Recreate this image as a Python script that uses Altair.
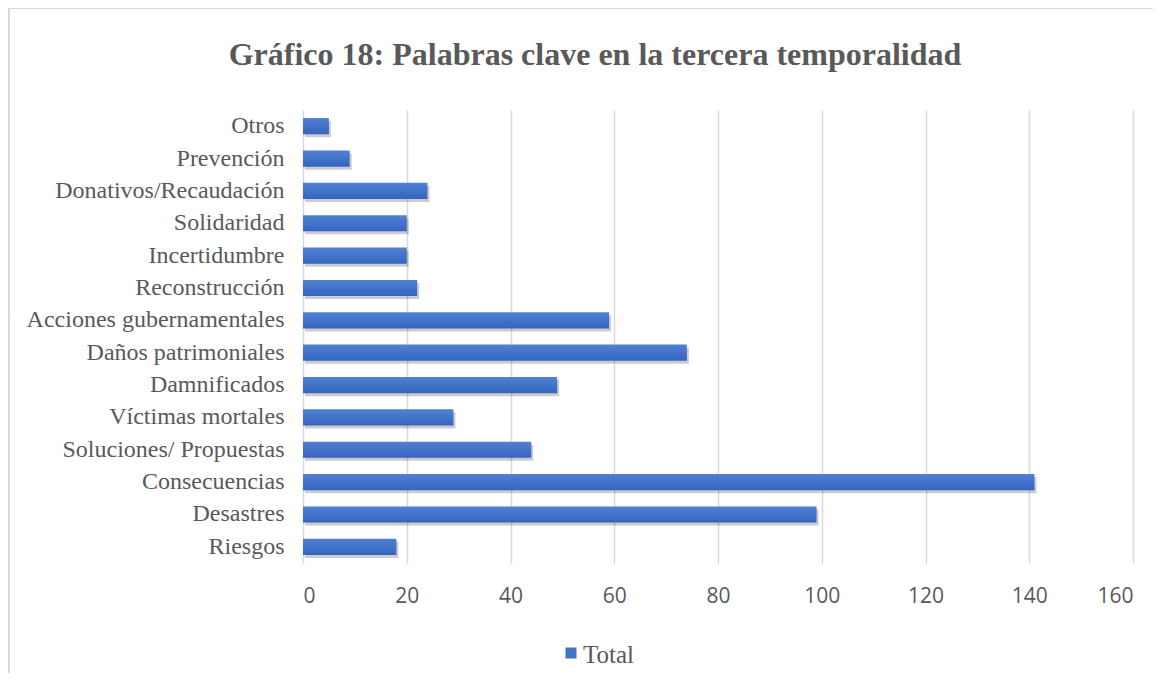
import altair as alt
import pandas as pd

categories = ["Otros", "Prevención", "Donativos/Recaudación", "Solidaridad", "Incertidumbre",
              "Reconstrucción", "Acciones gubernamentales", "Daños patrimoniales", "Damnificados",
              "Víctimas mortales", "Soluciones/ Propuestas", "Consecuencias", "Desastres", "Riesgos"]
values = [5, 9, 24, 20, 20, 22, 59, 74, 49, 29, 44, 141, 99, 18]
series = ["Total"] * len(categories)
x_ticks = [0, 20, 40, 60, 80, 100, 120, 140, 160]
title_text = ["Gráfico 18: Palabras clave en la tercera temporalidad"]

df = pd.DataFrame({"cat": categories, "val": values, "serie": series})

W, H = 830, 453
PL, PT, PR, PB = 295, 102, 20, 110

y_enc = alt.Y("cat:N", sort=categories, title=None,
              scale=alt.Scale(paddingInner=0.5, paddingOuter=0.25),
              axis=alt.Axis(labelFont="Liberation Serif", labelFontSize=24, labelColor="#595959",
                            ticks=False, domain=False, labelPadding=19, labelLimit=400))
x_enc = alt.X("val:Q", title=None, scale=alt.Scale(domain=[0, 160]),
              axis=alt.Axis(values=x_ticks, labelFont="Open Sans", labelFontSize=21,
                            labelColor="#595959", ticks=False, domain=False, labelPadding=22,
                            grid=True, gridColor="#d9d9d9", gridWidth=1.5))

shadow = alt.Chart(df).mark_bar(color="#000000", opacity=0.2, xOffset=2, yOffset=3).encode(
    x=x_enc,
    y=y_enc,
)

bars = alt.Chart(df).mark_bar(
    color=alt.Gradient(gradient="linear", x1=0, x2=0, y1=0, y2=1,
                       stops=[alt.GradientStop(color="#5181d3", offset=0),
                              alt.GradientStop(color="#3564c0", offset=1)])
).encode(
    x=x_enc,
    y=y_enc,
)

legend_pts = alt.Chart(df.head(1)).mark_square(size=121, color="#4472C4", opacity=1).encode(
    x=alt.value(268), y=alt.value(543),
)
legend_txt = alt.Chart(df.head(1)).mark_text(font="Liberation Serif", fontSize=25, color="#595959",
                                             align="left", baseline="middle").encode(
    x=alt.value(280), y=alt.value(545), text="serie:N",
)

title_df = pd.DataFrame({"t": title_text})
title_mark = alt.Chart(title_df).mark_text(font="Liberation Serif", fontSize=32, fontWeight="bold",
                                          color="#595959", align="center", baseline="alphabetic").encode(
    x=alt.value(292), y=alt.value(-45), text="t:N",
)

frame_df = pd.DataFrame({"k": [0]})
top_line = alt.Chart(frame_df).mark_rule(color="#d9d9d9", strokeWidth=2).encode(
    x=alt.value(-PL), x2=alt.value(W + PR), y=alt.value(-PT)
)
left_line = alt.Chart(frame_df).mark_rule(color="#d9d9d9", strokeWidth=2).encode(
    x=alt.value(-PL + 1), y=alt.value(-PT), y2=alt.value(H + PB)
)

chart = alt.layer(shadow, bars, legend_pts, legend_txt, title_mark, top_line, left_line).properties(
    width=W, height=H,
    autosize=alt.AutoSizeParams(type="none"),
    padding={"left": PL, "top": PT, "right": PR, "bottom": PB},
    background="white",
).configure_view(stroke=None)

chart.save("out.html", embed_options={"renderer": "svg", "actions": False})
